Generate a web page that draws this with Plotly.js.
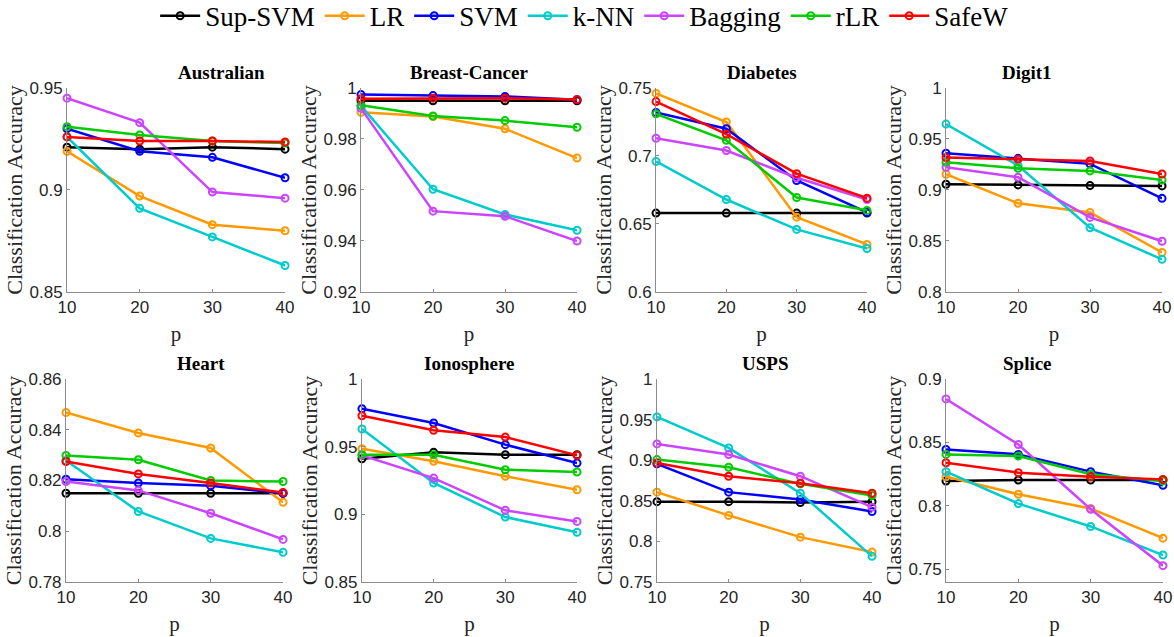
<!DOCTYPE html>
<html>
<head>
<meta charset="utf-8">
<script src="https://cdn.plot.ly/plotly-3.0.1.min.js"></script>
<style>html,body{margin:0;padding:0;background:#fff;}#chart{width:1174px;height:637px;}</style>
</head>
<body>
<div id="chart"></div>
<script>
const pValues = [10, 20, 30, 40];
const methods = ['Sup-SVM', 'LR', 'SVM', 'k-NN', 'Bagging', 'rLR', 'SafeW'];
const datasets = ['Australian', 'Breast-Cancer', 'Diabetes', 'Digit1', 'Heart', 'Ionosphere', 'USPS', 'Splice'];
const yTickVals = [
  [0.85, 0.9, 0.95],
  [0.92, 0.94, 0.96, 0.98, 1],
  [0.6, 0.65, 0.7, 0.75],
  [0.8, 0.85, 0.9, 0.95, 1],
  [0.78, 0.8, 0.82, 0.84, 0.86],
  [0.85, 0.9, 0.95, 1],
  [0.75, 0.8, 0.85, 0.9, 0.95, 1],
  [0.75, 0.8, 0.85, 0.9]
];
const yRanges = [
  [0.85, 0.95], [0.92, 1], [0.6, 0.75], [0.8, 1],
  [0.78, 0.86], [0.85, 1], [0.75, 1], [0.74, 0.9]
];
// rows: Sup-SVM, LR, SVM, k-NN, Bagging, rLR, SafeW
const australian = [
  [0.921, 0.920, 0.921, 0.920],
  [0.919, 0.897, 0.883, 0.880],
  [0.930, 0.919, 0.916, 0.906],
  [0.926, 0.891, 0.877, 0.863],
  [0.945, 0.933, 0.899, 0.896],
  [0.931, 0.927, 0.924, 0.923],
  [0.926, 0.924, 0.924, 0.9235]
];
const breastCancer = [
  [0.995, 0.995, 0.995, 0.995],
  [0.9905, 0.9888, 0.984, 0.9725],
  [0.9974, 0.997, 0.9967, 0.9954],
  [0.993, 0.9603, 0.9504, 0.9442],
  [0.992, 0.9517, 0.9497, 0.940],
  [0.9932, 0.989, 0.9872, 0.9846],
  [0.9958, 0.996, 0.996, 0.9955]
];
const diabetes = [
  [0.658, 0.658, 0.658, 0.658],
  [0.746, 0.725, 0.655, 0.635],
  [0.732, 0.720, 0.682, 0.6585],
  [0.696, 0.668, 0.646, 0.632],
  [0.713, 0.704, 0.684, 0.668],
  [0.731, 0.7115, 0.6695, 0.660],
  [0.740, 0.716, 0.687, 0.669]
];
const digit1 = [
  [0.9056, 0.905, 0.9043, 0.904],
  [0.9154, 0.887, 0.878, 0.8387],
  [0.936, 0.931, 0.9256, 0.8918],
  [0.9646, 0.924, 0.863, 0.832],
  [0.9223, 0.9125, 0.8731, 0.8498],
  [0.9272, 0.9213, 0.9187, 0.9098],
  [0.9318, 0.9302, 0.9285, 0.9157]
];
const heart = [
  [0.815, 0.815, 0.815, 0.815],
  [0.8468, 0.8387, 0.8328, 0.8114],
  [0.8205, 0.819, 0.8179, 0.815],
  [0.8279, 0.8078, 0.7972, 0.7917],
  [0.8196, 0.8161, 0.8071, 0.7968],
  [0.8299, 0.8282, 0.820, 0.8196],
  [0.8275, 0.8226, 0.819, 0.8153]
];
const ionosphere = [
  [0.9411, 0.9458, 0.9441, 0.9441],
  [0.9485, 0.9392, 0.9281, 0.9182],
  [0.9781, 0.9675, 0.9515, 0.9379],
  [0.9631, 0.9232, 0.898, 0.8867],
  [0.9436, 0.9268, 0.903, 0.8948],
  [0.9441, 0.9441, 0.933, 0.9313],
  [0.9729, 0.9621, 0.9571, 0.9436]
];
const usps = [
  [0.849, 0.849, 0.848, 0.849],
  [0.8607, 0.832, 0.8053, 0.7869],
  [0.8955, 0.8607, 0.8516, 0.8369],
  [0.9533, 0.9152, 0.8594, 0.7816],
  [0.9201, 0.907, 0.8803, 0.8422],
  [0.9008, 0.8914, 0.8709, 0.8566],
  [0.8967, 0.8803, 0.8717, 0.8594]
];
const splice = [
  [0.8196, 0.8204, 0.8204, 0.8204],
  [0.823, 0.8092, 0.7979, 0.7746],
  [0.8445, 0.8406, 0.827, 0.8162],
  [0.827, 0.8018, 0.7838, 0.7613],
  [0.8843, 0.8484, 0.7974, 0.7529],
  [0.8406, 0.8393, 0.8249, 0.8196],
  [0.834, 0.8262, 0.823, 0.8209]
];
const allData = [australian, breastCancer, diabetes, digit1, heart, ionosphere, usps, splice];

// styles
const SERIF = '"Liberation Serif", "Times New Roman", Times, "DejaVu Serif", serif';
const SANS = '"Liberation Sans", Arial, Helvetica, sans-serif';
const colors = ['#000000', '#FF9900', '#0000FF', '#00CCCC', '#CC44FF', '#00CC00', '#FF0000'];
const xDomains = [
  [0.0571, 0.2428], [0.3075, 0.4915], [0.5588, 0.7385], [0.8058, 0.9898],
  [0.0562, 0.2411], [0.3083, 0.4915], [0.5596, 0.7428], [0.8058, 0.9906]
];
const yDomains = [[0.5416, 0.8619], [0.0863, 0.405]];

const traces = [];
const layout = {
  width: 1174, height: 637,
  margin: {l: 0, r: 0, t: 0, b: 0, autoexpand: false},
  paper_bgcolor: '#ffffff', plot_bgcolor: '#ffffff',
  showlegend: true,
  legend: {
    orientation: 'h', x: 0.498, xanchor: 'center', y: 1.013, yanchor: 'top',
    font: {family: SERIF, size: 27, color: '#000'},
    itemwidth: 40, tracegroupgap: 0, bgcolor: 'rgba(0,0,0,0)'
  },
  annotations: []
};

allData.forEach((ds, i) => {
  const k = i + 1;
  const xa = k === 1 ? 'x' : 'x' + k;
  const ya = k === 1 ? 'y' : 'y' + k;
  ds.forEach((vals, m) => {
    traces.push({
      type: 'scatter', mode: 'lines+markers',
      x: pValues, y: vals, xaxis: xa, yaxis: ya,
      name: methods[m], legendgroup: methods[m], showlegend: i === 0,
      line: {color: colors[m], width: 2.5},
      marker: {symbol: 'circle-open', size: 7, color: colors[m], line: {width: 2, color: colors[m]}},
      cliponaxis: false, hoverinfo: 'skip'
    });
  });
  const row = i < 4 ? 0 : 1;
  const axisStyle = {
    showline: true, linecolor: '#8c8c8c', linewidth: 1,
    ticks: 'inside', ticklen: 3, tickcolor: '#8c8c8c', tickwidth: 1,
    showgrid: false, zeroline: false, mirror: false,
    tickfont: {family: SANS, size: 17, color: '#262626'}
  };
  layout['xaxis' + (k === 1 ? '' : k)] = Object.assign({}, axisStyle, {
    domain: xDomains[i], anchor: ya, range: [10, 40],
    tickvals: pValues, ticktext: pValues.map(String),
    title: {text: 'p', font: {family: SERIF, size: 21, color: '#262626'}, standoff: 9}
  });
  layout['yaxis' + (k === 1 ? '' : k)] = Object.assign({}, axisStyle, {
    domain: yDomains[row], anchor: xa, range: yRanges[i],
    tickvals: yTickVals[i], ticktext: yTickVals[i].map(String),
    title: {text: 'Classification Accuracy', font: {family: SERIF, size: 22, color: '#262626'}, standoff: 0}
  });
  layout.annotations.push({
    text: '<b>' + datasets[i] + '</b>',
    xref: 'paper', yref: 'paper',
    x: (xDomains[i][0] + xDomains[i][1]) / 2,
    y: yDomains[row][1], yanchor: 'bottom', yshift: 3,
    showarrow: false,
    font: {family: SERIF, size: 19, color: '#000'}
  });
});

Plotly.newPlot('chart', traces, layout, {displayModeBar: false, staticPlot: true});
</script>
</body>
</html>
